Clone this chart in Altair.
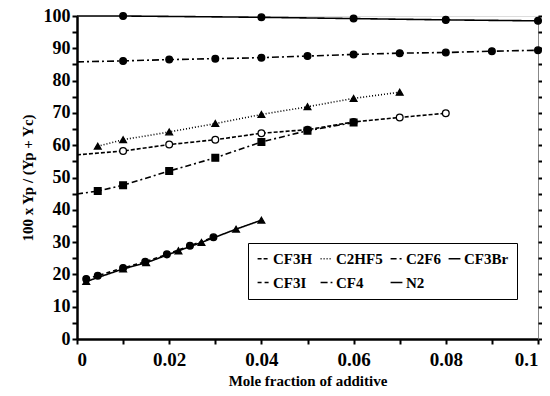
import altair as alt
import pandas as pd

# ---- data ----
series_order = ["CF3H", "C2HF5", "C2F6", "CF3Br", "CF3I", "CF4", "N2"]

# value at x = 0 where the line starts on the axis (None = no start segment)
line_start = {"CF3H": 57.0, "C2HF5": None, "C2F6": 44.9, "CF3Br": None,
              "CF3I": None, "CF4": 85.8, "N2": 100.0}

n2_x = [0.01, 0.04, 0.06, 0.08, 0.1]
n2_y = [100.0, 99.6, 99.2, 98.8, 98.5]

cf4_x = [0.01, 0.02, 0.03, 0.04, 0.05, 0.06, 0.07, 0.08, 0.09, 0.1]
cf4_y = [86.1, 86.5, 86.8, 87.1, 87.6, 88.1, 88.5, 88.7, 89.1, 89.4]

c2hf5_x = [0.0045, 0.01, 0.02, 0.03, 0.04, 0.05, 0.06, 0.07]
c2hf5_y = [59.7, 61.7, 64.1, 66.7, 69.5, 71.9, 74.5, 76.4]

cf3h_x = [0.01, 0.02, 0.03, 0.04, 0.05, 0.06, 0.07, 0.08]
cf3h_y = [58.2, 60.2, 61.7, 63.7, 64.8, 67.2, 68.6, 69.9]

c2f6_x = [0.0045, 0.01, 0.02, 0.03, 0.04, 0.05, 0.06]
c2f6_y = [45.8, 47.6, 52.0, 56.1, 61.0, 64.5, 67.0]

cf3br_x = [0.002, 0.01, 0.015, 0.022, 0.027, 0.0345, 0.04]
cf3br_y = [17.8, 21.7, 23.6, 27.3, 29.9, 34.0, 36.8]

cf3i_x = [0.002, 0.0045, 0.01, 0.0148, 0.0195, 0.0245, 0.0296]
cf3i_y = [18.6, 19.6, 22.0, 23.9, 26.2, 28.9, 31.5]

x_ticks = [0, 0.01, 0.02, 0.03, 0.04, 0.05, 0.06, 0.07, 0.08, 0.09, 0.1]
y_ticks = [0, 5, 10, 15, 20, 25, 30, 35, 40, 45, 50, 55, 60, 65, 70, 75, 80, 85, 90, 95, 100]

raw = {
    "CF3H": (cf3h_x, cf3h_y),
    "C2HF5": (c2hf5_x, c2hf5_y),
    "C2F6": (c2f6_x, c2f6_y),
    "CF3Br": (cf3br_x, cf3br_y),
    "CF3I": (cf3i_x, cf3i_y),
    "CF4": (cf4_x, cf4_y),
    "N2": (n2_x, n2_y),
}

rows = []
for s in series_order:
    xs, ys = raw[s]
    if line_start[s] is not None:
        rows.append({"series": s, "x": 0.0, "y": line_start[s], "marker": False})
    for xv, yv in zip(xs, ys):
        rows.append({"series": s, "x": xv, "y": yv, "marker": True})
df = pd.DataFrame(rows)

dash_range = [[4, 2], [1, 2], [6, 3, 2, 3], [1, 0], [4, 3], [7, 3, 2, 3], [1, 0]]
shape_range = ["circle", "triangle-up", "square", "triangle-up", "circle", "circle", "circle"]
fill_range = ["white", "black", "black", "black", "black", "black", "black"]
width_range = [1.6, 1.6, 1.6, 1.8, 1.6, 1.6, 2.4]

font = "Liberation Serif"

xenc = alt.X("x:Q", scale=alt.Scale(domain=[0, 0.1], nice=False),
             axis=alt.Axis(values=x_ticks, title="Mole fraction of additive",
                           labelExpr="round(datum.value*100) % 2 == 0 ? format(datum.value, '~g') : ''",
                           labelOverlap=False,
                           grid=False, tickSize=5, tickWidth=2, domainWidth=2.5,
                           domainColor="black", tickColor="black",
                           labelFont=font, labelFontSize=19, labelFontWeight="bold",
                           labelColor="black", labelPadding=6,
                           titleFont=font, titleFontSize=15, titleFontWeight="bold",
                           titleColor="black", titlePadding=4))
yenc = alt.Y("y:Q", scale=alt.Scale(domain=[0, 100], nice=False),
             axis=alt.Axis(values=y_ticks, title="100 x Yp / (Yp + Yc)",
                           labelExpr="datum.value % 10 == 0 ? datum.value : ''",
                           labelOverlap=False,
                           grid=False, tickSize=5, tickWidth=2, domainWidth=2.5,
                           domainColor="black", tickColor="black",
                           labelFont=font, labelFontSize=18, labelFontWeight="bold",
                           labelColor="black", labelPadding=2,
                           titleFont=font, titleFontSize=15, titleFontWeight="bold",
                           titleColor="black", titlePadding=8))

lines = alt.Chart(df).mark_line(color="black").encode(
    x=xenc, y=yenc,
    detail="series:N",
    strokeDash=alt.StrokeDash("series:N",
                              scale=alt.Scale(domain=series_order, range=dash_range),
                              legend=alt.Legend(title=None, orient="none", legendX=171, legendY=227,
                                                columns=4, direction="horizontal",
                                                symbolType="stroke", symbolStrokeColor="black",
                                                symbolStrokeWidth=1.6, symbolSize=140,
                                                labelFont=font, labelFontSize=15,
                                                labelFontWeight="bold", labelColor="black",
                                                strokeColor="black", fillColor="white",
                                                padding=8, columnPadding=4, rowPadding=8,
                                                labelOffset=2)),
    strokeWidth=alt.StrokeWidth("series:N",
                                scale=alt.Scale(domain=series_order, range=width_range),
                                legend=None),
)

points = alt.Chart(df).transform_filter("datum.marker").mark_point(
    stroke="black", strokeWidth=1.3, opacity=1, size=45
).encode(
    x="x:Q", y="y:Q",
    shape=alt.Shape("series:N", scale=alt.Scale(domain=series_order, range=shape_range), legend=None),
    fill=alt.Fill("series:N", scale=alt.Scale(domain=series_order, range=fill_range), legend=None),
)

right_axis = alt.Chart(df).mark_point(opacity=0).encode(
    y=alt.Y("y:Q", scale=alt.Scale(domain=[0, 100], nice=False),
            axis=alt.Axis(orient="right", values=y_ticks, labels=False, title=None,
                          grid=False, tickSize=5, tickWidth=2, domain=False,
                          tickColor="black")),
)

chart = alt.layer(lines, points, right_axis).resolve_scale(y="independent").resolve_legend(
    strokeDash="independent"
).properties(
    width=461, height=323,
    autosize=alt.AutoSizeParams(type="none"),
    padding={"left": 69, "top": 8, "right": 4, "bottom": 49},
).configure_view(stroke="black", strokeWidth=2.5).configure(background="white")

chart.save("out.html", embed_options={"renderer": "svg", "actions": False})
